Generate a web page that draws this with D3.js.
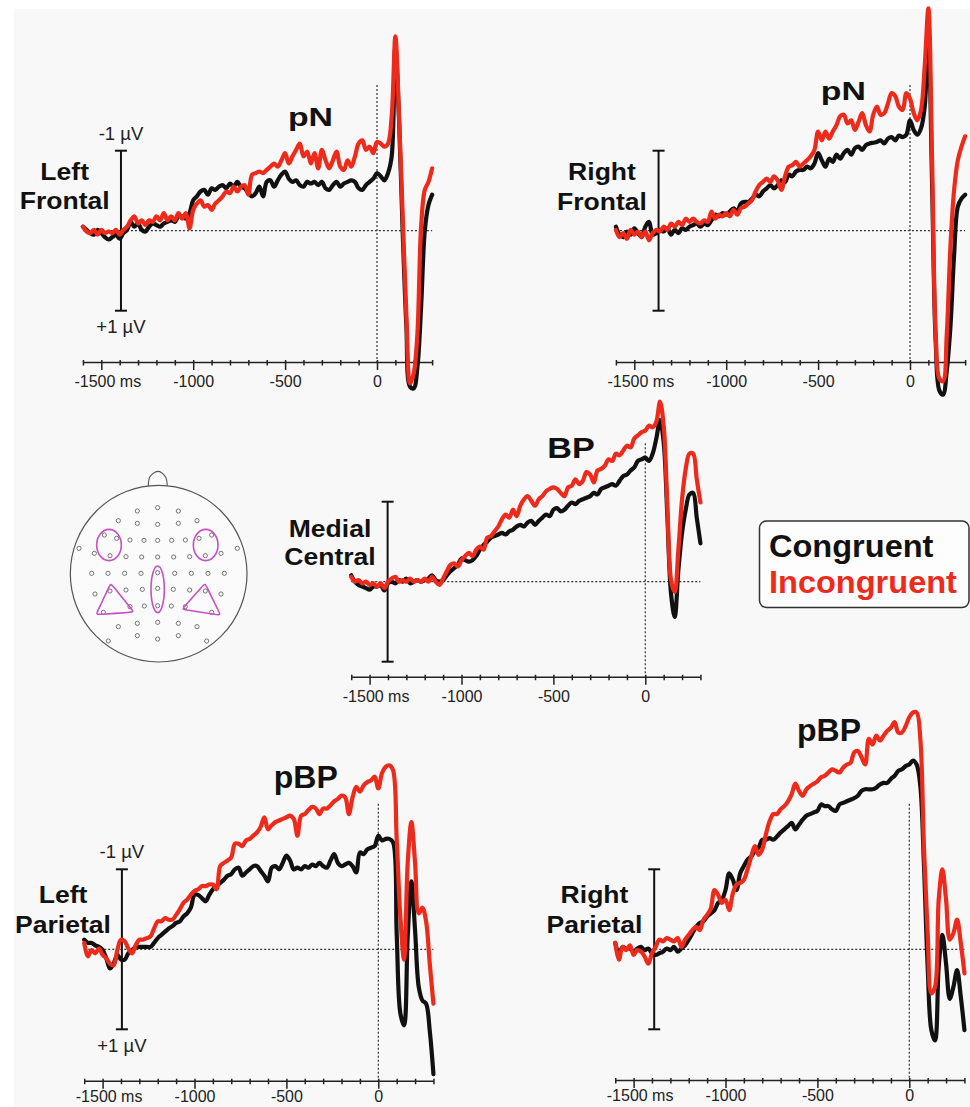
<!DOCTYPE html>
<html><head><meta charset="utf-8">
<script src="https://cdn.jsdelivr.net/npm/d3@7"></script>
<style>
html,body{margin:0;padding:0;background:#fff;}
svg{display:block;font-family:"Liberation Sans",Arial,Helvetica,sans-serif;}
</style></head><body>
<svg id="chart" width="970" height="1107"></svg>
<script>
// ---------- DATA ----------
const times = [
-1600,-1580,-1560,-1540,-1520,-1500,-1480,-1460,-1440,-1420,
-1400,-1380,-1360,-1340,-1320,-1300,-1280,-1260,-1240,-1220,
-1200,-1180,-1160,-1140,-1120,-1100,-1080,-1060,-1040,-1020,
-1000,-980,-960,-940,-920,-900,-880,-860,-840,-820,
-800,-780,-760,-740,-720,-700,-680,-660,-640,-620,
-600,-580,-560,-540,-520,-500,-480,-460,-440,-420,
-400,-380,-360,-340,-320,-300,-280,-260,-240,-220,
-200,-180,-160,-140,-120,-100,-80,-60,-40,-20,
0,20,40,60,80,100,120,140,160,180,
200,220,240,260,280,300];

// amplitudes in µV (negative plotted upward)
const leftFrontalCongruent = [
-0.05,-0.01,0.03,0.05,-0.01,0.03,0.08,0.11,0.08,0.05,
0.10,0.03,-0.01,-0.11,-0.05,-0.09,-0.01,0.01,-0.05,-0.09,
-0.07,-0.05,-0.09,-0.11,-0.13,-0.11,-0.18,-0.18,-0.15,-0.22,
-0.38,-0.43,-0.49,-0.51,-0.45,-0.53,-0.51,-0.55,-0.57,-0.53,
-0.59,-0.55,-0.61,-0.55,-0.53,-0.47,-0.43,-0.47,-0.55,-0.43,
-0.61,-0.63,-0.55,-0.63,-0.70,-0.74,-0.65,-0.61,-0.63,-0.57,
-0.55,-0.61,-0.59,-0.61,-0.57,-0.61,-0.53,-0.51,-0.57,-0.61,
-0.55,-0.59,-0.61,-0.63,-0.61,-0.53,-0.51,-0.57,-0.61,-0.65,
-0.72,-0.68,-0.63,-0.72,-0.93,-2.30,-1.38,0.03,1.20,1.95,
1.97,1.70,0.95,0.00,-0.32,-0.45];
const leftFrontalIncongruent = [
-0.05,0.01,0.03,-0.01,0.05,-0.01,0.03,0.01,0.03,-0.01,
0.05,-0.01,-0.05,-0.13,-0.18,-0.09,-0.13,-0.07,-0.13,-0.11,
-0.18,-0.13,-0.22,-0.13,-0.18,-0.13,-0.22,-0.15,-0.22,-0.03,
-0.26,-0.34,-0.38,-0.30,-0.32,-0.26,-0.34,-0.38,-0.43,-0.49,
-0.47,-0.55,-0.49,-0.55,-0.57,-0.45,-0.70,-0.72,-0.74,-0.72,
-0.76,-0.80,-0.84,-0.80,-0.88,-0.97,-0.84,-0.93,-1.01,-1.09,
-0.93,-0.99,-0.84,-0.97,-0.78,-1.01,-0.88,-0.78,-0.88,-0.99,
-0.80,-0.76,-0.88,-0.80,-0.93,-1.09,-1.13,-1.01,-1.05,-0.97,
-1.11,-1.09,-1.05,-1.09,-1.43,-2.43,-1.43,-0.17,1.07,1.91,
1.78,1.28,-0.05,-0.51,-0.61,-0.78];

const rightFrontalCongruent = [
-0.05,0.05,0.08,0.01,0.05,-0.03,0.03,0.08,-0.05,-0.11,
0.05,0.03,-0.01,0.01,-0.03,0.05,-0.01,0.03,-0.03,-0.01,
-0.05,-0.07,-0.09,-0.05,-0.09,-0.07,-0.13,-0.20,-0.18,-0.22,
-0.20,-0.24,-0.28,-0.24,-0.34,-0.36,-0.36,-0.40,-0.45,-0.43,
-0.49,-0.53,-0.57,-0.53,-0.57,-0.63,-0.61,-0.70,-0.68,-0.74,
-0.76,-0.76,-0.80,-0.78,-0.84,-0.97,-0.88,-0.80,-0.90,-0.86,
-0.95,-0.90,-0.97,-1.01,-0.95,-1.03,-1.05,-1.01,-1.07,-1.09,
-1.10,-1.11,-1.13,-1.09,-1.15,-1.17,-1.13,-1.19,-1.17,-1.20,
-1.38,-1.26,-1.20,-1.28,-1.55,-2.40,-0.60,1.40,2.00,2.05,
1.75,1.20,0.30,-0.30,-0.40,-0.45];
const rightFrontalIncongruent = [
-0.01,0.08,0.03,0.10,-0.01,0.05,0.01,0.08,0.01,0.12,
0.03,-0.01,0.01,-0.05,-0.01,-0.09,-0.05,-0.11,-0.07,-0.15,
-0.11,-0.15,-0.11,-0.09,-0.13,-0.11,-0.24,-0.15,-0.20,-0.18,
-0.22,-0.18,-0.26,-0.20,-0.28,-0.30,-0.34,-0.38,-0.49,-0.57,
-0.61,-0.65,-0.61,-0.68,-0.63,-0.51,-0.68,-0.80,-0.82,-0.86,
-0.80,-0.84,-0.88,-0.93,-1.01,-1.24,-1.13,-1.24,-1.15,-1.24,
-1.32,-1.43,-1.45,-1.34,-1.38,-1.26,-1.36,-1.47,-1.32,-1.24,
-1.45,-1.55,-1.45,-1.47,-1.59,-1.72,-1.68,-1.55,-1.51,-1.72,
-1.65,-1.47,-1.38,-1.51,-2.05,-2.78,-0.90,1.30,1.85,1.88,
1.30,0.20,-0.51,-0.88,-1.05,-1.18];

const medialCentralCongruent = [
-0.08,0,0.04,0.06,0.08,0.10,0.06,0.06,0.04,0.11,
0.02,0,0.02,-0.02,0,-0.04,0.02,0,-0.02,0,
-0.02,-0.04,-0.08,-0.02,0,-0.02,-0.08,-0.13,-0.17,-0.21,
-0.29,-0.27,-0.25,-0.27,-0.32,-0.40,-0.46,-0.50,-0.55,-0.57,
-0.59,-0.61,-0.59,-0.63,-0.65,-0.69,-0.71,-0.69,-0.74,-0.76,
-0.71,-0.76,-0.80,-0.84,-0.82,-0.90,-0.92,-0.88,-0.90,-0.95,
-0.99,-0.97,-1.01,-1.03,-1.05,-1.07,-1.11,-1.09,-1.16,-1.18,
-1.20,-1.22,-1.20,-1.26,-1.32,-1.34,-1.39,-1.43,-1.51,-1.53,
-1.55,-1.51,-1.60,-1.79,-2.02,-1.74,-0.82,0.15,0.44,-0.15,
-0.61,-0.90,-1.09,-1.11,-0.80,-0.48];
const medialCentralIncongruent = [
-0.06,0,-0.02,0.02,0,0.04,0.02,0.06,0.02,0.08,
0,-0.04,-0.06,0,-0.02,0,-0.04,0,-0.02,0,
-0.04,0,-0.06,0,0.04,-0.04,-0.13,-0.21,-0.23,-0.19,
-0.27,-0.32,-0.36,-0.32,-0.40,-0.44,-0.40,-0.55,-0.57,-0.63,
-0.69,-0.78,-0.84,-0.80,-0.90,-0.82,-0.95,-1.03,-1.07,-1.01,
-0.95,-1.03,-1.07,-1.13,-1.16,-1.18,-1.16,-1.11,-1.07,-1.18,
-1.20,-1.28,-1.22,-1.26,-1.37,-1.34,-1.24,-1.39,-1.41,-1.45,
-1.53,-1.51,-1.60,-1.58,-1.64,-1.70,-1.68,-1.79,-1.83,-1.87,
-1.89,-1.95,-1.93,-2.00,-2.25,-1.95,-0.95,-0.02,0.13,-0.40,
-1.03,-1.41,-1.60,-1.60,-1.28,-0.99];

const leftParietalCongruent = [
-0.12,-0.08,-0.08,-0.05,-0.03,0.01,0.11,0.24,0.18,0.07,
0.13,0.13,0.05,0.01,-0.03,-0.03,-0.03,-0.03,-0.03,-0.08,
-0.14,-0.18,-0.22,-0.26,-0.29,-0.33,-0.35,-0.41,-0.45,-0.52,
-0.68,-0.68,-0.64,-0.60,-0.68,-0.75,-0.79,-0.83,-0.87,-0.92,
-0.94,-1.00,-1.02,-0.92,-0.96,-1.00,-1.04,-1.04,-0.98,-0.92,
-0.85,-1.02,-1.04,-1.00,-1.08,-1.17,-1.11,-1.00,-1.02,-1.00,
-1.04,-1.02,-1.06,-1.04,-1.08,-1.04,-1.02,-1.11,-1.19,-1.08,
-1.04,-1.06,-1.08,-1.04,-0.96,-1.21,-1.19,-1.25,-1.27,-1.29,
-1.42,-1.36,-1.38,-1.38,-1.34,-0.20,0.80,0.95,-0.16,-0.85,
-0.24,0.47,0.64,0.68,1.02,1.56];
const leftParietalIncongruent = [
-0.08,0.09,0.01,0.05,-0.01,0.07,0.11,0.18,0.20,0.01,
-0.12,-0.10,-0.01,0.05,-0.05,-0.12,-0.12,-0.14,-0.16,-0.26,
-0.35,-0.35,-0.39,-0.37,-0.37,-0.43,-0.50,-0.58,-0.62,-0.68,
-0.73,-0.75,-0.79,-0.79,-0.81,-0.81,-0.75,-1.04,-1.08,-1.11,
-1.15,-1.32,-1.32,-1.29,-1.36,-1.38,-1.42,-1.46,-1.53,-1.65,
-1.50,-1.55,-1.59,-1.61,-1.63,-1.65,-1.67,-1.63,-1.42,-1.67,
-1.69,-1.74,-1.78,-1.76,-1.69,-1.76,-1.76,-1.80,-1.85,-1.88,
-1.92,-1.90,-1.69,-1.90,-2.03,-1.97,-2.05,-2.09,-2.11,-2.16,
-2.01,-2.20,-2.28,-2.30,-2.24,-1.38,-0.41,0.13,-1.08,-1.59,
-1.08,-0.45,-0.52,-0.35,0.18,0.68];

const rightParietalCongruent = [
-0.08,0.05,-0.03,-0.01,-0.01,0.03,-0.01,-0.03,0.01,-0.01,
0.05,0.07,0.05,0.03,-0.01,0.01,-0.03,0.03,-0.01,-0.05,
-0.12,-0.20,-0.28,-0.33,-0.35,-0.41,-0.45,-0.49,-0.58,-0.62,
-0.74,-0.95,-0.87,-0.74,-0.95,-1.04,-1.12,-1.16,-1.23,-1.27,
-1.37,-1.37,-1.39,-1.37,-1.41,-1.46,-1.50,-1.54,-1.58,-1.50,
-1.56,-1.62,-1.67,-1.69,-1.71,-1.73,-1.81,-1.79,-1.79,-1.75,
-1.73,-1.81,-1.83,-1.85,-1.87,-1.89,-1.92,-1.98,-2.00,-2.00,
-2.00,-2.02,-2.06,-2.08,-2.08,-2.13,-2.17,-2.23,-2.25,-2.29,
-2.31,-2.36,-2.31,-2.04,-1.04,0.22,1.01,1.14,0.22,-0.18,
0.18,0.62,0.47,0.26,0.59,1.01];
const rightParietalIncongruent = [
-0.08,0.13,-0.03,0.01,-0.05,0.07,0.01,0.03,0.09,0.18,
0.05,-0.03,-0.12,-0.10,-0.14,-0.12,-0.10,-0.14,-0.03,-0.12,
-0.18,-0.24,-0.28,-0.24,-0.37,-0.43,-0.51,-0.74,-0.68,-0.58,
-0.62,-0.49,-0.70,-0.81,-0.83,-0.87,-1.00,-1.16,-1.29,-1.18,
-1.25,-1.44,-1.60,-1.69,-1.69,-1.75,-1.79,-1.85,-1.94,-2.07,
-1.98,-1.92,-2.00,-2.04,-2.07,-2.10,-2.15,-2.17,-2.21,-2.25,
-2.23,-2.21,-2.27,-2.31,-2.33,-2.46,-2.48,-2.40,-2.31,-2.63,
-2.56,-2.67,-2.61,-2.67,-2.73,-2.77,-2.84,-2.71,-2.71,-2.79,
-2.90,-2.96,-2.96,-2.63,-1.25,-0.20,0.55,0.47,-0.62,-1.00,
-0.62,-0.12,-0.20,-0.37,-0.08,0.30];

const tickTimes = [-1600,-1500,-1400,-1300,-1200,-1100,-1000,-900,-800,-700,-600,-500,-400,-300,-200,-100,0,100,200,300];
const majorTicks = [-1500,-1000,-500,0];
const tickLabels = ["-1500 ms","-1000","-500","0"];
const seriesNames = ["Congruent","Incongruent"];
const seriesColors = ["#111111","#ee2a1b"];
const scaleLabels = ["-1 µV","+1 µV"];

// head map (schematic electrode layout, map units)
const electrodes = [
[262,153],[323,143],[385,153],
[205,182],[262,190],[323,193],[385,190],[441,182],
[163,225],[200,235],[240,240],[282,241],[323,241],[365,241],[406,240],[447,235],[485,225],
[87,265],[562,265],
[133,280],[180,287],[228,290],[275,291],[323,291],[371,291],[419,290],[466,287],[513,280],
[125,340],[174,340],[224,340],[273,340],[323,338],[374,340],[424,340],[474,340],[523,340],
[135,402],[180,393],[228,390],[277,388],[323,385],[370,388],[419,390],[466,393],[513,402],
[160,457],[240,440],[283,438],[323,437],[364,438],[406,440],[485,457],
[205,500],[262,490],[323,487],[385,490],[441,500],
[175,543],[262,527],[323,537],[385,527],[470,543]];
const roiEllipses = [[177,255,37,47],[467,255,37,47],[323,388,20,70]];
const roiTriangles = [[[182,370],[138,464],[252,456]],[[465,370],[396,448],[512,466]]];
const headOutline = [326,341,265];
const nose = [[295,80],[300,50],[323,34],[346,50],[352,80]];

// ---------- LAYOUT ----------
const W = 970, H = 1107;
const PX_MS = 0.1838, PX_UV = 80;
const FONT = '"Liberation Sans",Arial,Helvetica,sans-serif';
const panels = [
 {name:["Left","Frontal"], comp:"pN", data:[leftFrontalCongruent,leftFrontalIncongruent],
  zeroX:377, axisY:362, baseY:230.7, bar:-1393, vTop:-1.82, uv:true, tickY:25,
  nameX:64.7, nameY:[180,208.5], compX:310.5, compY:126, compSize:26, compSx:1.3},
 {name:["Right","Frontal"], comp:"pN", data:[rightFrontalCongruent,rightFrontalIncongruent],
  zeroX:910, axisY:362, baseY:230.7, bar:-1368, vTop:-1.82, uv:false, tickY:25,
  nameX:602, nameY:[180,210], compX:843.3, compY:100, compSize:26, compSx:1.3},
 {name:["Medial","Central"], comp:"BP", data:[medialCentralCongruent,medialCentralIncongruent],
  zeroX:645.3, axisY:676.7, baseY:581.7, bar:-1402, vTop:-1.73, uv:false, tickY:25,
  nameX:330, nameY:[536.7,565], compX:571, compY:458.3, compSize:30, compSx:1.14},
 {name:["Left","Parietal"], comp:"pBP", data:[leftParietalCongruent,leftParietalIncongruent],
  zeroX:378.3, axisY:1080.7, baseY:949.3, bar:-1395, vTop:-1.82, uv:true, tickY:21,
  nameX:63, nameY:[903.3,933.3], compX:305.8, compY:788, compSize:32, compSx:1.0},
 {name:["Right","Parietal"], comp:"pBP", data:[rightParietalCongruent,rightParietalIncongruent],
  zeroX:909.3, axisY:1080, baseY:949.3, bar:-1388, vTop:-1.82, uv:false, tickY:21,
  nameX:594.5, nameY:[903.3,933.3], compX:829, compY:741, compSize:32, compSx:1.0}
];

const svg = d3.select("#chart");
svg.append("rect").attr("x",14).attr("y",9).attr("width",W-14).attr("height",H-9).attr("fill","#f8f8f8");

function label(g, txt, x, y, size, weight, sx, fill, anchor){
  return g.append("text").attr("transform",`translate(${x},${y}) scale(${sx},1)`)
    .attr("text-anchor",anchor||"middle").attr("font-family",FONT)
    .attr("font-size",size).attr("font-weight",weight).attr("fill",fill||"#111").text(txt);
}

panels.forEach(p => {
  const g = svg.append("g");
  const x = d3.scaleLinear().domain([-1600,300]).range([p.zeroX-1600*PX_MS, p.zeroX+300*PX_MS]);
  const y = d3.scaleLinear().domain([-1,1]).range([p.baseY-PX_UV, p.baseY+PX_UV]);

  // reference lines
  g.append("line").attr("x1",x(-1600)).attr("x2",x(300)).attr("y1",y(0)).attr("y2",y(0))
    .attr("stroke","#333").attr("stroke-width",1.2).attr("stroke-dasharray","2,2");
  g.append("line").attr("x1",x(0)).attr("x2",x(0)).attr("y1",y(p.vTop)).attr("y2",p.axisY)
    .attr("stroke","#333").attr("stroke-width",1.2).attr("stroke-dasharray","2,2");

  // time axis
  const axis = d3.axisBottom(x).tickValues(tickTimes).tickSizeOuter(0).tickSizeInner(0)
    .tickFormat(d => { const i = majorTicks.indexOf(d); return i >= 0 ? tickLabels[i] : ""; });
  const ag = g.append("g").attr("transform",`translate(0,${p.axisY})`).call(axis);
  ag.attr("font-family",null).attr("font-size",null);
  ag.select(".domain").attr("stroke","#222").attr("stroke-width",1.6);
  ag.selectAll(".tick line").attr("y1",-2).attr("y2",d => majorTicks.includes(d) ? 8 : 3.5)
    .attr("stroke","#222").attr("stroke-width",1.5);
  ag.selectAll(".tick text").attr("y",p.tickY).attr("dy",null)
    .attr("dx", d => d === majorTicks[0] ? 6 : 0)
    .attr("font-family",FONT).attr("font-size",16).attr("fill","#222");

  // scale bar
  const bx = x(p.bar);
  g.append("line").attr("x1",bx).attr("x2",bx).attr("y1",y(-1)).attr("y2",y(1)).attr("stroke","#111").attr("stroke-width",2);
  [-1,1].forEach(v => g.append("line").attr("x1",bx-6).attr("x2",bx+6).attr("y1",y(v)).attr("y2",y(v))
    .attr("stroke","#111").attr("stroke-width",2));
  if (p.uv) {
    label(g, scaleLabels[0], bx, y(-1)-11, 18.5, "normal", 1, "#222");
    label(g, scaleLabels[1], bx, y(1)+22.5, 18.5, "normal", 1, "#222");
  }

  // waveforms
  const line = d3.line().x((d,i) => x(times[i])).y(d => y(d)).curve(d3.curveCatmullRom.alpha(0.5));
  p.data.forEach((series, si) => {
    g.append("path").datum(series).attr("d", line).attr("fill","none")
      .attr("stroke", seriesColors[si]).attr("stroke-width",4.2)
      .attr("stroke-linejoin","round").attr("stroke-linecap","round");
  });

  // labels
  p.name.forEach((t,i) => label(g, t, p.nameX, p.nameY[i], 23.5, "bold", 1.13, "#111"));
  label(g, p.comp, p.compX, p.compY, p.compSize, "bold", p.compSx, "#111");
});

// ---------- HEAD MAP ----------
const hx = d3.scaleLinear().domain([0,600]).range([50,250]);
const hy = d3.scaleLinear().domain([0,630]).range([460,670]);
const hg = svg.append("g");
hg.append("path").attr("d", d3.line().x(d=>hx(d[0])).y(d=>hy(d[1])).curve(d3.curveCatmullRom)(nose))
  .attr("fill","#fbfbfb").attr("stroke","#555").attr("stroke-width",1.1);
hg.append("circle").attr("cx",hx(headOutline[0])).attr("cy",hy(headOutline[1]))
  .attr("r",hx(headOutline[0]+headOutline[2])-hx(headOutline[0]))
  .attr("fill","#fbfbfb").attr("stroke","#555").attr("stroke-width",1.2);
hg.selectAll("circle.el").data(electrodes).enter().append("circle").attr("class","el")
  .attr("cx",d=>hx(d[0])).attr("cy",d=>hy(d[1])).attr("r",2.1)
  .attr("fill","none").attr("stroke","#666").attr("stroke-width",0.9);
const roiColor = "#c64fc6";
hg.selectAll("ellipse.roi").data(roiEllipses).enter().append("ellipse").attr("class","roi")
  .attr("cx",d=>hx(d[0])).attr("cy",d=>hy(d[1]))
  .attr("rx",d=>hx(d[0]+d[2])-hx(d[0])).attr("ry",d=>hy(d[1]+d[3])-hy(d[1]))
  .attr("fill","none").attr("stroke",roiColor).attr("stroke-width",1.6);
const triLine = d3.line().x(d=>hx(d[0])).y(d=>hy(d[1])).curve(d3.curveBasisClosed);
roiTriangles.forEach(tri => {
  const pts = [];
  tri.forEach(v => { pts.push(v); pts.push(v); });
  hg.append("path").attr("d", triLine(pts)).attr("fill","none").attr("stroke",roiColor).attr("stroke-width",1.6);
});

// ---------- LEGEND ----------
const lg = svg.append("g");
lg.append("rect").attr("x",759.5).attr("y",521).attr("width",209.5).attr("height",86.5).attr("rx",7)
  .attr("fill","#fdfdfd").attr("stroke","#333").attr("stroke-width",1.5);
seriesNames.forEach((n,i) => label(lg, n, 769, 556.7 + i*36, 31, "bold", 1.05, seriesColors[i], "start"));
</script>
</body></html>
